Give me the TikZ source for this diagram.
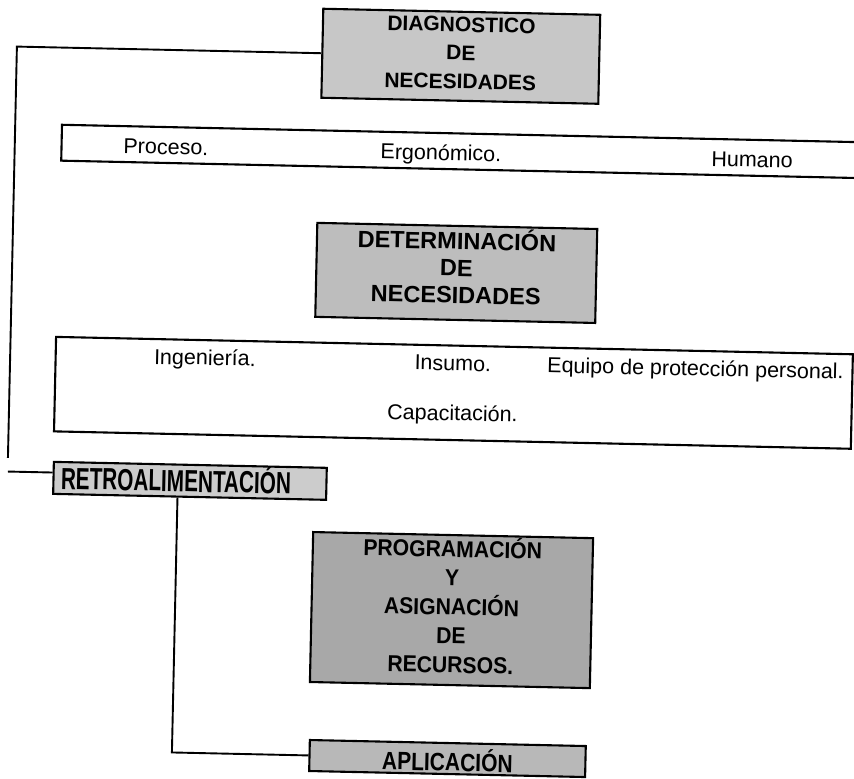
\documentclass[tikz,border=0pt]{standalone}
\usepackage{fontspec}
\setmainfont{Liberation Sans}
\newfontfamily\fProg{Liberation Sans}[FakeStretch=0.92]
\newfontfamily\fRetro{Liberation Sans}[FakeStretch=0.68]
\newfontfamily\fAplic{Liberation Sans}[FakeStretch=0.84]
\usetikzlibrary{calc}
\definecolor{gDiag}{gray}{0.78}
\definecolor{gDet}{gray}{0.74}
\definecolor{gProg}{gray}{0.66}
\definecolor{gRetro}{gray}{0.80}
\definecolor{gAplic}{gray}{0.72}
\tikzset{
  boxline/.style={line width=2.1pt},
  hbox/.style={draw, boxline, inner sep=0pt, align=center},
  item/.style={anchor=base, inner sep=0pt, font=\fontsize{21.5}{26}\selectfont},
  conn/.style={line width=1.9pt},
}
\begin{document}
\begin{tikzpicture}[x=1pt,y=-1pt]
\useasboundingbox (0,0) rectangle (854,779);
\fill[white] (0,0) rectangle (854,779);
\begin{scope}[rotate around={-1.25:(427,390)}, transform shape]
  % boxes
  \node[hbox, fill=gDiag, minimum width=277pt, minimum height=89pt,
        font=\bfseries\fontsize{21}{28.5}\selectfont] (diag) at (453.5,55.6)
        {DIAGNOSTICO\\DE\\NECESIDADES\rule[-6.6pt]{0pt}{0pt}};
  \node[minimum width=813.5pt, minimum height=35.5pt, inner sep=0pt] (list1) at (463.25,150.75) {};
  \draw[boxline] (list1.north east) -- (list1.north west) -- (list1.south west) -- (list1.south east);
  \node[item] (proceso) at (160.7,160) {Proceso.};
  \node[item] (ergo) at (435.8,160) {Ergonómico.};
  \node[item] (humano) at (747,160) {Humano};

  \node[hbox, fill=gDet, minimum width=280pt, minimum height=94pt,
        font=\bfseries\fontsize{23.5}{27}\selectfont] (deter) at (453.7,272.3)
        {DETERMINACIÓN\\DE\\NECESIDADES\rule[-14pt]{0pt}{0pt}};

  \node[hbox, minimum width=797pt, minimum height=94.5pt] (list2) at (453.5,392.25) {};
  \node[item] (inge) at (204.3,370) {Ingeniería.};
  \node[item] (insumo) at (452.3,370) {Insumo.};
  \node[item] (equipo) at (695,370) {Equipo de protección personal.};
  \node[item] (capac) at (453,420) {Capacitación.};

  \node[hbox, fill=gRetro, minimum height=32pt, text width=258pt, inner xsep=7.5pt,
        align=left, text height=22pt, text depth=0pt,
        font=\fRetro\bfseries\fontsize{30.5}{32}\selectfont] (retro) at (192,486)
        {RETROALIMENTACIÓN};

  \node[hbox, fill=gProg, minimum width=280pt, minimum height=150pt,
        font=\fProg\bfseries\fontsize{23}{29}\selectfont] (prog) at (456.3,609.5)
        {PROGRAMACIÓN\\Y\\ASIGNACIÓN\\DE\\RECURSOS.\rule[-10.6pt]{0pt}{0pt}};

  \node[hbox, fill=gAplic, minimum width=276pt, minimum height=31pt,
        text height=25pt, text depth=0pt,
        font=\fAplic\bfseries\fontsize{25}{28}\selectfont] (aplic) at (455.5,758)
        {APLICACIÓN};

  % connectors
  \coordinate (lbot) at (9.5,467);
  \draw[conn] (diag.west) -- ($(diag.west)!(lbot)!(diag.east)$) -- (lbot);
  \coordinate (stub) at (9.8,480.7);
  \draw[conn] (stub) -- ($(retro.north west)!(stub)!(retro.south west)$);
  \coordinate (vtop) at ($(retro.south west)!0.456!(retro.south east)$);
  \draw[conn] (vtop) -- ($(aplic.west)!(vtop)!(aplic.east)$) -- (aplic.west);
\end{scope}
\end{tikzpicture}
\end{document}
